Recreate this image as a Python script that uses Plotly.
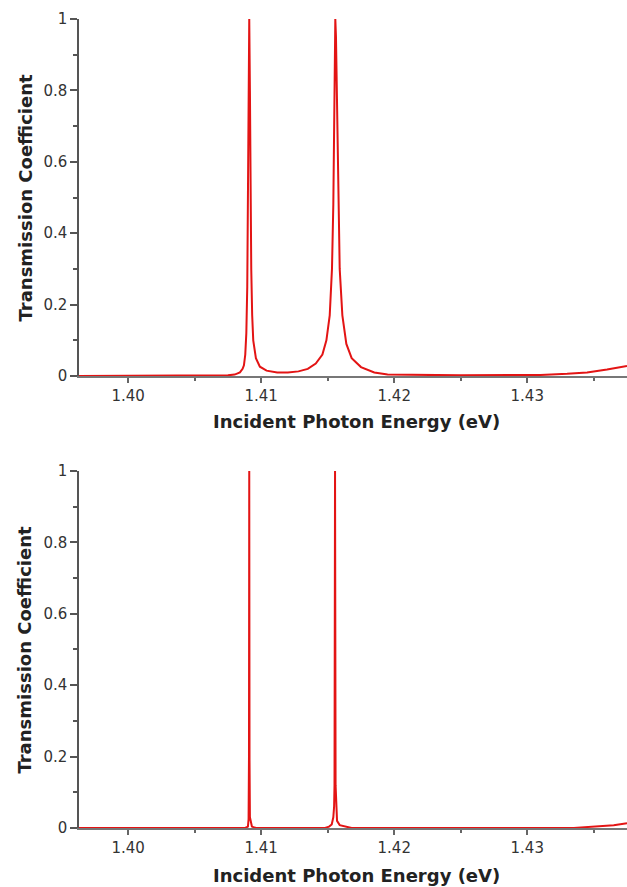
import plotly.graph_objects as go
from plotly.subplots import make_subplots

top_energy = [1.3963, 1.4060, 1.4075, 1.4080, 1.4084, 1.4086, 1.4087, 1.4088, 1.40888,
              1.40895, 1.40900, 1.40905, 1.40910, 1.40915, 1.40920, 1.40925, 1.40932,
              1.4094, 1.4096, 1.4099, 1.4104, 1.4112, 1.4120, 1.4128, 1.4135, 1.4141,
              1.4146, 1.4149, 1.41515, 1.41532, 1.41542, 1.41548, 1.41553, 1.41557,
              1.41562, 1.41568, 1.41578, 1.4159, 1.4161, 1.4164, 1.4168, 1.4175,
              1.4185, 1.4195, 1.4250, 1.4310, 1.4330, 1.4345, 1.4360, 1.4375]
top_trans = [0.0, 0.0, 0.002, 0.004, 0.01, 0.02, 0.03, 0.06, 0.12,
             0.25, 0.55, 0.85, 1.0, 0.8, 0.5, 0.3, 0.17,
             0.1, 0.05, 0.026, 0.015, 0.01, 0.01, 0.013, 0.02, 0.035,
             0.06, 0.1, 0.17, 0.3, 0.48, 0.72, 0.92, 1.0,
             0.95, 0.8, 0.5, 0.3, 0.17, 0.09, 0.05, 0.025,
             0.01, 0.004, 0.002, 0.003, 0.006, 0.01, 0.018, 0.028]

bottom_energy = [1.3963, 1.4088, 1.40900, 1.40905, 1.40908, 1.40910, 1.40912, 1.40915,
                 1.4093, 1.4096, 1.4148, 1.4151, 1.4153, 1.41542, 1.41548, 1.41551,
                 1.41555, 1.41559, 1.41563, 1.4157, 1.4159, 1.4163, 1.4168, 1.4335,
                 1.4350, 1.4365, 1.4375]
bottom_trans = [0.0, 0.0, 0.004, 0.025, 0.2, 1.0, 0.19, 0.03,
                0.004, 0.0, 0.0, 0.004, 0.01, 0.03, 0.06, 0.12,
                1.0, 0.12, 0.05, 0.02, 0.008, 0.004, 0.0, 0.0,
                0.004, 0.008, 0.013]

x_tick_vals = [1.40, 1.41, 1.42, 1.43]
x_tick_text = ["1.40", "1.41", "1.42", "1.43"]
y_tick_vals = [0, 0.2, 0.4, 0.6, 0.8, 1]
y_tick_text = ["0", "0.2", "0.4", "0.6", "0.8", "1"]
x_title = "Incident Photon Energy (eV)"
y_title = "Transmission Coefficient"

LINE_COLOR = "#e31414"
FONT = "DejaVu Sans"

fig = make_subplots(rows=2, cols=1, vertical_spacing=0.1174)
fig.add_trace(go.Scatter(x=top_energy, y=top_trans, mode="lines",
                         line=dict(color=LINE_COLOR, width=2), showlegend=False), row=1, col=1)
fig.add_trace(go.Scatter(x=bottom_energy, y=bottom_trans, mode="lines",
                         line=dict(color=LINE_COLOR, width=2), showlegend=False), row=2, col=1)

for r in (1, 2):
    fig.update_xaxes(range=[1.3963, 1.4375], tickvals=x_tick_vals, ticktext=x_tick_text,
                     ticks="outside", ticklen=5, tickwidth=1.5, tickcolor="#666",
                     minor=dict(dtick=0.005, tick0=1.40, ticks="outside", ticklen=3,
                                tickcolor="#666", tickwidth=1.5),
                     showline=True, linecolor="#777", linewidth=1.5,
                     showgrid=False, zeroline=False, automargin=False,
                     tickfont=dict(family=FONT, size=15, color="#333"),
                     row=r, col=1)
    fig.update_yaxes(range=[0, 1], tickvals=y_tick_vals, ticktext=y_tick_text,
                     ticks="outside", ticklen=7, tickwidth=1.5, tickcolor="#555",
                     minor=dict(dtick=0.1, tick0=0, ticks="outside", ticklen=4,
                                tickcolor="#555", tickwidth=1.5),
                     showline=True, linecolor="#555", linewidth=1.5,
                     showgrid=False, zeroline=False, automargin=False,
                     tickfont=dict(family=FONT, size=15, color="#333"),
                     row=r, col=1)

fig.update_layout(yaxis=dict(domain=[0.5587, 1.0]), yaxis2=dict(domain=[0.0, 0.4413]))

ann = []
for yc in (0.5019, -0.0581):
    ann.append(dict(text=x_title, xref="paper", yref="paper", x=0.507, y=yc,
                    xanchor="center", yanchor="middle", showarrow=False,
                    font=dict(family=FONT, size=18, color="#222", weight="bold")))
for yc in (0.7794, 0.2206):
    ann.append(dict(text=y_title, xref="paper", yref="paper", x=-0.0985, y=yc,
                    xanchor="center", yanchor="middle", showarrow=False, textangle=-90,
                    font=dict(family=FONT, size=18, color="#222", weight="bold")))

fig.update_layout(width=627, height=887, margin=dict(l=79, r=0, t=19, b=59),
                  paper_bgcolor="white", plot_bgcolor="white", annotations=ann)

fig.write_html("out.html", config={"displayModeBar": False},
               post_script="document.body.style.margin='0';document.body.style.padding='0';"
                           "document.body.style.overflow='hidden';"
                           "document.documentElement.style.overflow='hidden';")
